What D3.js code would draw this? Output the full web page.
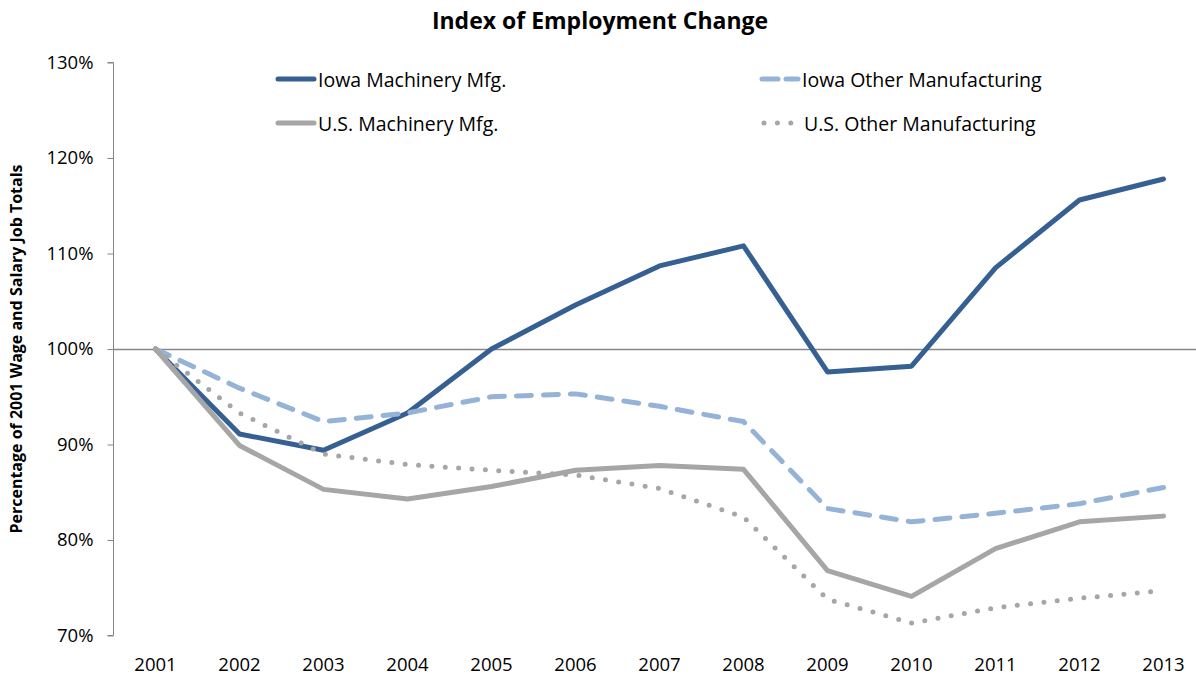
<!DOCTYPE html>
<html>
<head>
<meta charset="utf-8">
<script src="https://cdn.jsdelivr.net/npm/d3@7"></script>
<style>
  body { margin: 0; background: #fff; }
  text { font-family: "Open Sans", Lato, sans-serif; fill: #000; }
</style>
</head>
<body>
<div id="container"></div>
<script>
/** DATA */
const years = ["2001", "2002", "2003", "2004", "2005", "2006", "2007", "2008", "2009", "2010", "2011", "2012", "2013"];
const iowaMachinery = [100, 91.1, 89.4, 93.3, 100.0, 104.6, 108.7, 110.8, 97.6, 98.2, 108.5, 115.6, 117.8];
const iowaOther = [100, 95.9, 92.4, 93.3, 95.0, 95.3, 94.0, 92.4, 83.3, 81.9, 82.8, 83.8, 85.5];
const usMachinery = [100, 89.9, 85.3, 84.3, 85.6, 87.3, 87.8, 87.4, 76.8, 74.1, 79.1, 81.9, 82.5];
const usOther = [100, 93.3, 89.0, 87.9, 87.3, 86.8, 85.4, 82.4, 73.8, 71.3, 72.9, 73.9, 74.7];
const yTicks = [70, 80, 90, 100, 110, 120, 130];

const series = [
  { name: "Iowa Machinery Mfg.", values: iowaMachinery, color: "#366092", dash: null, lx: 276, ly: 79 },
  { name: "Iowa Other Manufacturing", values: iowaOther, color: "#95b3d7", dash: "15 12", lx: 760, ly: 79 },
  { name: "U.S. Machinery Mfg.", values: usMachinery, color: "#a6a6a6", dash: null, lx: 276, ly: 123 },
  { name: "U.S. Other Manufacturing", values: usOther, color: "#a6a6a6", dash: "0 13.4", lx: 762, ly: 123 }
];

/** CONSTANTS */
const width = 1196,
  height = 675,
  margin = { top: 62.5, bottom: 39.5, left: 113.5, right: -9.5 };

const svg = d3.select("#container")
  .append("svg")
  .attr("width", width)
  .attr("height", height);

// scales
const xScale = d3.scaleBand()
  .domain(years)
  .range([margin.left, width - margin.right]);

const yScale = d3.scaleLinear()
  .domain([70, 130])
  .range([height - margin.bottom, margin.top]);

const xPos = d => xScale(d) + xScale.bandwidth() / 2;

// title
svg.append("text")
  .attr("x", 600)
  .attr("y", 29)
  .attr("text-anchor", "middle")
  .style("font-size", "23px")
  .style("font-weight", "bold")
  .text("Index of Employment Change");

// y axis title
svg.append("text")
  .attr("transform", `translate(22, ${yScale(100)}) rotate(-90)`)
  .attr("text-anchor", "middle")
  .style("font-size", "16px")
  .style("font-weight", "bold")
  .text("Percentage of 2001 Wage and Salary Job Totals");

// y axis
const yAxis = d3.axisLeft(yScale)
  .tickValues(yTicks)
  .tickSize(6)
  .tickPadding(14)
  .tickFormat(d => d + "%");

const yG = svg.append("g")
  .attr("transform", `translate(${margin.left}, 0)`)
  .call(yAxis);
yG.select(".domain").attr("stroke", "#868686").attr("d", `M-6,${yScale(130)}H0V${yScale(70)}H-6`);
yG.selectAll(".tick line").attr("stroke", "#868686");
yG.selectAll(".tick text")
  .style("font-size", "18.5px")
  .attr("fill", "#000");

// horizontal axis crossing at 100%
const xAxis = d3.axisBottom(xScale)
  .tickSize(0)
  .tickFormat("");
const xG = svg.append("g")
  .attr("transform", `translate(0, ${yScale(100)})`)
  .call(xAxis);
xG.select(".domain").attr("stroke", "#868686").attr("stroke-width", 1.3);

// x labels (low position)
svg.selectAll(".xlabel")
  .data(years)
  .join("text")
  .attr("class", "xlabel")
  .attr("x", d => xPos(d))
  .attr("y", 671)
  .attr("text-anchor", "middle")
  .style("font-size", "18.5px")
  .text(d => d);

// lines
const lineGen = d3.line()
  .x((d, i) => xPos(years[i]))
  .y(d => yScale(d));

svg.selectAll(".series")
  .data(series)
  .join("path")
  .attr("class", "series")
  .attr("d", d => lineGen(d.values))
  .attr("fill", "none")
  .attr("stroke", d => d.color)
  .attr("stroke-width", 5)
  .attr("stroke-linejoin", "round")
  .attr("stroke-linecap", "round")
  .attr("stroke-dasharray", d => d.dash);

// legend
const legend = svg.selectAll(".legend")
  .data(series)
  .join("g")
  .attr("class", "legend")
  .attr("transform", d => `translate(${d.lx}, ${d.ly})`);

legend.append("line")
  .attr("x1", 2)
  .attr("x2", d => d.dash === "0 13.4" ? 29 : 38)
  .attr("y1", 0)
  .attr("y2", 0)
  .attr("stroke", d => d.color)
  .attr("stroke-width", 5)
  .attr("stroke-linecap", "round")
  .attr("stroke-dasharray", d => d.dash === "15 12" ? "16 8" : d.dash);

legend.append("text")
  .attr("x", 42)
  .attr("y", 8)
  .style("font-size", "19.5px")
  .text(d => d.name);
</script>
</body>
</html>
